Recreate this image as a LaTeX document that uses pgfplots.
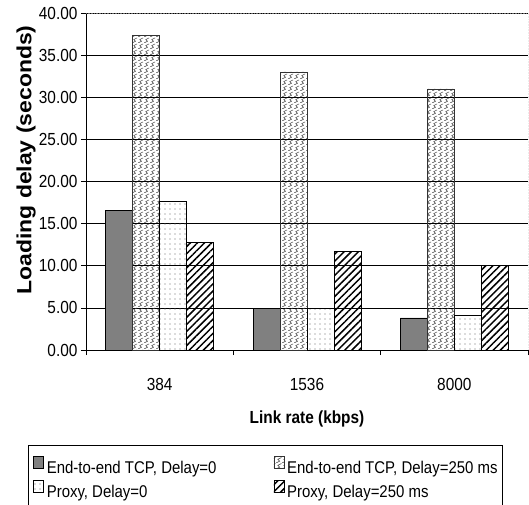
\documentclass[border=0pt]{standalone}
\usepackage{fontspec}
\setmainfont{Liberation Sans}
\newfontfamily\condensed[FakeStretch=0.88]{Liberation Sans}
\newfontfamily\widened[FakeStretch=1.12]{Liberation Sans}
\usepackage{pgfplots}
\pgfplotsset{compat=1.18}
\usetikzlibrary{patterns.meta}

% diagonal zig-zag fill
\pgfdeclarepatternformonly{zigzag}{\pgfpointorigin}{\pgfpoint{6pt}{6pt}}{\pgfpoint{6pt}{6pt}}{%
  \pgfsetlinewidth{0.6pt}%
  \pgfpathmoveto{\pgfpoint{0pt}{0pt}}%
  \pgfpathlineto{\pgfpoint{4pt}{2pt}}%
  \pgfpathlineto{\pgfpoint{2pt}{4pt}}%
  \pgfpathlineto{\pgfpoint{6pt}{6pt}}%
  \pgfusepath{stroke}%
}

\pgfplotstableread{
x  e2e0  e2e250  px0   px250
0  16.6  37.3    17.6  12.8
1  4.9   33.0    4.9   11.7
2  3.8   31.0    4.1   10.0
}\delaydata

\begin{document}
\begin{tikzpicture}
\begin{axis}[
  width=442pt, height=337pt, scale only axis,
  ybar=0pt, bar width=27pt,
  xmin=-0.5, xmax=2.5, ymin=0, ymax=40,
  ytick={0,5,...,40},
  ymajorgrids, grid style={black, line width=0.6pt},
  axis x line*=bottom, axis y line*=left,
  axis line style={black, line width=0.6pt},
  tick align=outside, major tick length=5pt,
  tick style={black, line width=0.6pt},
  xtick={-0.5,0.5,1.5,2.5}, xticklabels={},
  extra x ticks={0,1,2}, extra x tick labels={384,1536,8000},
  extra x tick style={major tick length=0pt},
  x tick label style={anchor=base, yshift=-40pt},
  y tick label style={/pgf/number format/.cd, fixed, fixed zerofill, precision=2},
  /pgf/number format/assume math mode=true,
  ticklabel style={font=\condensed\fontsize{17.5}{20}\selectfont},
  xlabel={\textbf{Link rate (kbps)}},
  ylabel={\textbf{Loading delay (seconds)}},
  xlabel style={font=\condensed\fontsize{17.5}{20}\selectfont,
    at={(axis description cs:0.5,0)}, anchor=base, yshift=-73pt},
  ylabel style={font=\widened\fontsize{20.5}{24}\selectfont,
    at={(axis description cs:0,0.5638)}, anchor=center, yshift=60pt},
  legend columns=2,
  legend cell align=left,
  legend style={at={(axis description cs:-0.13122,-0.2819)}, anchor=north west,
    draw=black, line width=0.6pt, font=\condensed\fontsize{17}{20}\selectfont,
    inner xsep=5pt, inner ysep=10.5pt, row sep=5pt,
    nodes={inner sep=0pt},
    /tikz/every odd column/.append style={column sep=3pt},
    /tikz/every even column/.append style={column sep=57pt}},
  legend image code/.code={\draw[#1, line width=0.5pt] (0pt,0pt) rectangle (10pt,12pt);},
]
\addplot[fill=black!50, draw=black, line width=0.6pt] table[x=x, y=e2e0] {\delaydata};
\addplot[pattern=zigzag, pattern color=black!75, draw=black!80, line width=0.6pt] table[x=x, y=e2e250] {\delaydata};
\addplot[pattern={Dots[distance=5pt, radius=0.55pt]}, pattern color=black!60, draw=black, line width=0.6pt] table[x=x, y=px0] {\delaydata};
\addplot[pattern={Lines[angle=45, distance=5pt, line width=1.5pt]}, pattern color=black, draw=black, line width=0.6pt] table[x=x, y=px250] {\delaydata};
\legend{End-to-end TCP{,} Delay=0, End-to-end TCP{,} Delay=250 ms, Proxy{,} Delay=0, Proxy{,} Delay=250 ms}
% dotted frame along the top and right of the plot area
\draw[densely dotted, black!60, line width=0.6pt] (rel axis cs:0,1) -- (rel axis cs:1,1) -- (rel axis cs:1,0);
\end{axis}
% fixed page frame around the chart and its legend
\pgfresetboundingbox
\useasboundingbox (-86pt,-154pt) rectangle (443pt,350pt);
\end{tikzpicture}
\end{document}
